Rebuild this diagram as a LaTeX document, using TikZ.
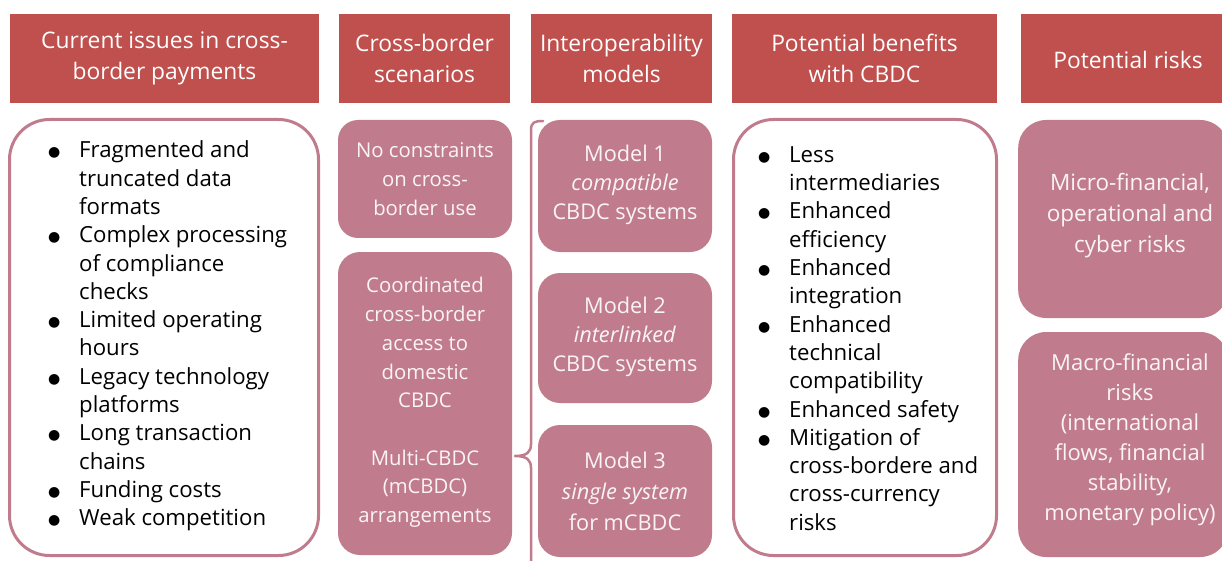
\documentclass[tikz,border=0pt]{standalone}
\usepackage{fontspec}
\setmainfont{Open Sans}
\newfontfamily\dejavu{DejaVu Sans}
\definecolor{hdrred}{RGB}{192,80,77}
\definecolor{mauve}{RGB}{192,124,140}
\definecolor{lighttxt}{RGB}{250,244,246}
\newcommand{\bul}{\makebox[31pt][l]{\raisebox{1pt}{\dejavu\fontsize{14}{14}\selectfont ●}}}
\newcommand{\ind}{\hspace*{31pt}}
\begin{document}
\begin{tikzpicture}[x=1pt,y=-1pt,
  hdr/.style={fill=hdrred,text=white,inner sep=0pt,align=center,minimum height=89pt,
    font=\fontsize{22.8}{31.5}\selectfont},
  wbox/.style={draw=mauve,line width=3pt,fill=white,rounded corners=40pt,inner sep=0pt},
  mbox/.style={fill=mauve,rounded corners=22pt,inner sep=0pt},
  mtext/.style={text=lighttxt,align=center,inner sep=0pt,font=\fontsize{20.3}{28.7}\selectfont},
  btext/.style={text=black,align=left,inner sep=0pt,anchor=west,font=\fontsize{22.2}{28.3}\selectfont},
  brace/.style={draw=mauve,line width=2.5pt,line cap=round,line join=round}]
\useasboundingbox (0,0) rectangle (1222,561);
\fill[white] (0,0) rectangle (1222,561);
% headers
\node[hdr,minimum width=309pt] (h1) at (164.5,58.5) {Current issues in cross-\\border payments};
\node[hdr,minimum width=171pt] (h2) at (424.5,58.5) {Cross-border\\scenarios};
\node[hdr,minimum width=181pt] (h3) at (621.5,58.5) {Interoperability\\models};
\node[hdr,minimum width=265pt] (h4) at (864.5,58.5) {Potential benefits\\with CBDC};
\node[hdr,minimum width=206pt,anchor=west] (h5) at (1021,58.5) {};
\node[text=white,inner sep=0pt,font=\fontsize{22.8}{31.5}\selectfont] (h5t) at (1128,60) {Potential risks};
% column 1
\node[wbox,minimum width=309pt,minimum height=436pt] (b1) at (164,337.5) {};
\node[btext] (b1t) at (48,336) {\bul Fragmented and\\ \ind truncated data\\ \ind formats\\
 \bul Complex processing\\ \ind of compliance\\ \ind checks\\
 \bul Limited operating\\ \ind hours\\
 \bul Legacy technology\\ \ind platforms\\
 \bul Long transaction\\ \ind chains\\
 \bul Funding costs\\
 \bul Weak competition};
% column 2
\node[mbox,rounded corners=20pt,minimum width=174pt,minimum height=118pt] (c2a) at (425,179) {};
\node[mtext] (c2at) at (425,179) {No constraints\\on cross-\\border use};
\node[mbox,minimum width=174pt,minimum height=303pt] (c2b) at (425,403.5) {};
\node[mtext] (c2bt) at (425,402.5) {Coordinated\\cross-border\\access to\\domestic\\CBDC\\[28.7pt]Multi-CBDC\\(mCBDC)\\arrangements};
% brace
\coordinate (bt) at (543,121);
\coordinate (bc) at (515,456);
\coordinate (bb) at (531,566);
\draw[brace] (bt) .. controls (535,121) and (531,122) .. (531,130) -- (531,444)
  .. controls (531,452) and (527,456) .. (bc)
  .. controls (527,456) and (531,460) .. (531,468) -- (bb);
% column 3
\node[mbox,minimum width=174pt,minimum height=132pt] (m1) at (625,186) {};
\node[mtext,font=\fontsize{21.7}{29}\selectfont] (m1t) at (625,185) {Model 1\\\textit{compatible}\\CBDC systems};
\node[mbox,minimum width=174pt,minimum height=130pt] (m2) at (625,338) {};
\node[mtext,font=\fontsize{21.7}{29}\selectfont] (m2t) at (625,337) {Model 2\\\textit{interlinked}\\CBDC systems};
\node[mbox,minimum width=174pt,minimum height=132pt] (m3) at (625,491) {};
\node[mtext,font=\fontsize{21.7}{31}\selectfont] (m3t) at (625,491) {Model 3\\\textit{single system}\\for mCBDC};
% column 4
\node[wbox,minimum width=263pt,minimum height=436pt] (b4) at (865,337.5) {};
\node[btext] (b4t) at (758,338.5) {\bul Less\\ \ind intermediaries\\
 \bul Enhanced\\ \ind efficiency\\
 \bul Enhanced\\ \ind integration\\
 \bul Enhanced\\ \ind technical\\ \ind compatibility\\
 \bul Enhanced safety\\
 \bul Mitigation of\\ \ind cross-bordere and\\ \ind cross-currency\\ \ind risks};
% column 5
\node[mbox,rounded corners=28pt,minimum width=210pt,minimum height=198pt,anchor=west] (r1) at (1018,219) {};
\node[mtext,font=\fontsize{22.5}{31}\selectfont] (r1t) at (1130,216) {Micro-financial,\\operational and\\cyber risks};
\node[mbox,rounded corners=28pt,minimum width=210pt,minimum height=225pt,anchor=west] (r2) at (1018,444.5) {};
\node[mtext,font=\fontsize{22}{30}\selectfont] (r2t) at (1130,440) {Macro-financial\\risks\\(international\\flows, financial\\stability,\\monetary policy)};
\end{tikzpicture}
\end{document}
